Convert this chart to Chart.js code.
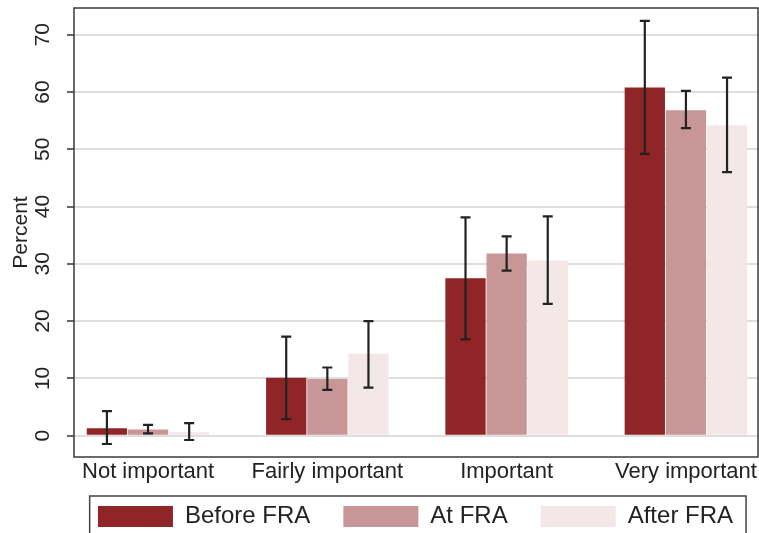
<!DOCTYPE html>
<html>
<head>
<meta charset="utf-8">
<script src="https://cdn.jsdelivr.net/npm/chart.js@4"></script>
<style>
  html, body { margin: 0; padding: 0; background: #fff; }
  #wrap { width: 759px; height: 533px; }
</style>
</head>
<body>
<div id="wrap"><canvas id="myChart" width="759" height="533"></canvas></div>
<script>
// categories and their positions on the x axis
const categories = ["Not important", "Fairly important", "Important", "Very important"];
const xPos = [1, 2, 3, 4];

// percent values per period
const before = [1.3, 10.1, 27.5, 60.8];
const beforeLo = [-1.45, 2.9, 16.8, 49.2];
const beforeHi = [4.3, 17.3, 38.1, 72.4];

const at = [1.1, 9.9, 31.8, 56.8];
const atLo = [0.4, 8.0, 28.8, 53.7];
const atHi = [1.9, 11.9, 34.8, 60.2];

const after = [0.6, 14.3, 30.6, 54.2];
const afterLo = [-0.75, 8.4, 23.0, 46.0];
const afterHi = [2.2, 20.0, 38.3, 62.5];

const yTicks = [0, 10, 20, 30, 40, 50, 60, 70];

Chart.defaults.font.family = '"Liberation Sans", Arial, sans-serif';
Chart.defaults.color = "#222";

const datasets = [
  { label: "Before FRA", data: before, lo: beforeLo, hi: beforeHi, backgroundColor: "#902527" },
  { label: "At FRA", data: at, lo: atLo, hi: atHi, backgroundColor: "#c99697" },
  { label: "After FRA", data: after, lo: afterLo, hi: afterHi, backgroundColor: "#f3e7e8" }
];

// error bars with caps
const errorBars = {
  id: "errorBars",
  afterDatasetsDraw(chart) {
    const ctx = chart.ctx;
    const y = chart.scales.y;
    ctx.save();
    ctx.strokeStyle = "#222";
    ctx.lineWidth = 2.2;
    chart.data.datasets.forEach((ds, i) => {
      const meta = chart.getDatasetMeta(i);
      meta.data.forEach((bar, j) => {
        const x = bar.x;
        const y1 = y.getPixelForValue(ds.lo[j]);
        const y2 = y.getPixelForValue(ds.hi[j]);
        ctx.beginPath();
        ctx.moveTo(x, y1); ctx.lineTo(x, y2);
        ctx.moveTo(x - 5, y1); ctx.lineTo(x + 5, y1);
        ctx.moveTo(x - 5, y2); ctx.lineTo(x + 5, y2);
        ctx.stroke();
      });
    });
    ctx.restore();
  }
};

// keep the legend on one row, under the plot area and roughly centred on it
const legendPlace = {
  id: "legendPlace",
  afterLayout(chart) {
    const lg = chart.legend;
    const a = chart.chartArea;
    lg.update(chart.width, 46, { left: 0, top: 0, right: 0, bottom: 0 });
    lg.left = a.left - 13;
    lg.right = a.right + 12;
    lg.width = lg.right - lg.left;
    lg.top = chart.height - 61.5;
    lg.height = 67;
    lg.bottom = lg.top + lg.height;
  }
};

// plot frame and legend frame
const frames = {
  id: "frames",
  afterDraw(chart) {
    const ctx = chart.ctx;
    const a = chart.chartArea;
    ctx.save();
    ctx.strokeStyle = "#3a3a3a";
    ctx.lineWidth = 1.5;
    ctx.strokeRect(a.left, a.top, a.right - a.left, a.bottom - a.top);

    const lg = chart.legend;
    const hb = lg.legendHitBoxes;
    if (hb && hb.length) {
      const last = hb[hb.length - 1];
      const l = hb[0].left - 8.3;
      const r = last.left + last.width + 13;
      const t = lg.top + 24.5;
      ctx.strokeStyle = "#444";
      ctx.beginPath();
      ctx.moveTo(l, 560); ctx.lineTo(l, t); ctx.lineTo(r, t); ctx.lineTo(r, 560);
      ctx.stroke();
    }
    ctx.restore();
  }
};

const config = {
  type: "bar",
  data: { labels: xPos, datasets },
  options: {
    responsive: false,
    animation: false,
    layout: { padding: { top: 8, right: 1, left: 0, bottom: 0 } },
    datasets: {
      bar: { categoryPercentage: 0.688, barPercentage: 0.98, borderWidth: 0 }
    },
    plugins: {
      tooltip: { enabled: false },
      legend: {
        position: "bottom",
        maxHeight: 46,
        labels: {
          boxWidth: 75,
          boxHeight: 21,
          padding: 33,
          font: { size: 24 },
          color: "#222"
        }
      }
    },
    scales: {
      x: {
        type: "linear",
        offset: false,
        min: 0.587,
        max: 4.402,
        grid: { display: false },
        border: { display: false },
        afterBuildTicks: (axis) => { axis.ticks = xPos.map(v => ({ value: v })); },
        afterFit: (axis) => {
          axis.height = 30;
          axis.paddingLeft = 0;
          axis.paddingRight = 0;
        },
        ticks: {
          autoSkip: false,
          maxRotation: 0,
          padding: -6,
          font: { size: 22 },
          color: "#222",
          callback: (value, index) => categories[index]
        }
      },
      y: {
        min: -3.72,
        max: 74.66,
        border: { display: false },
        afterBuildTicks: (axis) => { axis.ticks = yTicks.map(v => ({ value: v })); },
        afterFit: (axis) => {
          axis.width = 74;
          axis.paddingTop = 0;
          axis.paddingBottom = 0;
        },
        grid: {
          color: "#dedede",
          lineWidth: 2,
          tickColor: "#333",
          tickLength: 7,
          tickWidth: 1.5
        },
        ticks: {
          minRotation: 90,
          maxRotation: 90,
          crossAlign: "center",
          padding: 12.6,
          font: { size: 21 },
          color: "#222"
        },
        title: {
          display: true,
          text: "Percent",
          font: { size: 21 },
          color: "#222",
          padding: { top: 9, bottom: 0 }
        }
      }
    }
  },
  plugins: [legendPlace, errorBars, frames]
};

new Chart(document.getElementById("myChart"), config);
</script>
</body>
</html>
